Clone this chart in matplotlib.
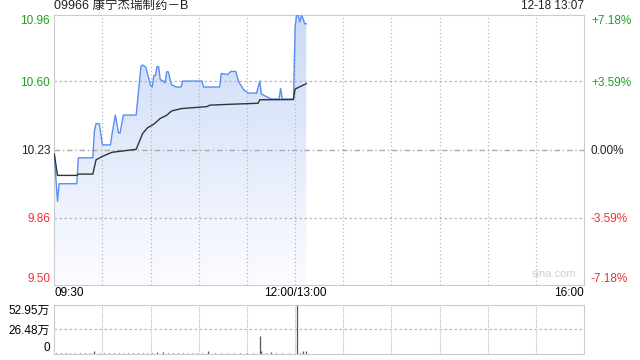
import matplotlib
matplotlib.use("Agg")
import matplotlib.pyplot as plt
import numpy as np
from matplotlib.patches import Polygon

plt.rcParams['font.family'] = ['Liberation Sans', 'Noto Sans CJK SC', 'DejaVu Sans']

# 数据
title = '09966 康宁杰瑞制药－B'
stamp = '12-18 13:07'
prev_close = 10.23

price_times = ['09:30', '09:32', '09:33', '09:44', '09:45', '09:54', '09:55', '09:56', '09:58',
               '10:00', '10:05', '10:06', '10:08', '10:10', '10:11', '10:13', '10:21', '10:24',
               '10:25', '10:27', '10:30', '10:31', '10:32', '10:33', '10:34', '10:35', '10:36',
               '10:38', '10:39', '10:40', '10:41', '10:43', '10:46', '10:49', '10:50', '11:02',
               '11:03', '11:13', '11:14', '11:18', '11:20', '11:23', '11:25', '11:28', '11:29',
               '11:31', '11:36', '11:38', '11:39', '11:42', '11:45', '11:50', '11:51', '11:52',
               '11:59', '12:00', '13:00', '13:01', '13:02', '13:03', '13:04', '13:05', '13:06',
               '13:07']
price = [10.20, 9.95, 10.045, 10.045, 10.185, 10.185, 10.33, 10.37, 10.37,
         10.255, 10.255, 10.315, 10.416, 10.32, 10.32, 10.416, 10.416, 10.68,
         10.687, 10.676, 10.575, 10.568, 10.63, 10.63, 10.678, 10.678, 10.608,
         10.60, 10.59, 10.65, 10.65, 10.58, 10.568, 10.568, 10.60, 10.60,
         10.568, 10.568, 10.641, 10.635, 10.652, 10.652, 10.594, 10.553, 10.546,
         10.535, 10.535, 10.60, 10.53, 10.517, 10.503, 10.503, 10.56, 10.503,
         10.503, 10.88, 10.89, 10.96, 10.955, 10.92, 10.955, 10.937, 10.91,
         10.91]

avg_times = ['09:30', '09:32', '09:44', '09:45', '09:54', '09:56', '10:00', '10:06', '10:21',
             '10:25', '10:28', '10:32', '10:36', '10:40', '10:43', '10:49', '11:05', '11:07',
             '11:21', '11:37', '11:38', '11:59', '13:00', '13:07']
avg_price = [10.206, 10.09, 10.09, 10.097, 10.097, 10.174, 10.193, 10.215, 10.231,
             10.316, 10.347, 10.367, 10.398, 10.415, 10.438, 10.451, 10.462, 10.47,
             10.475, 10.48, 10.499, 10.50, 10.557, 10.586]

vol_times = ['09:31', '09:34', '09:37', '09:40', '09:43', '09:46', '09:49', '09:52', '09:55',
             '09:58', '10:01', '10:04', '10:07', '10:10', '10:13', '10:16', '10:19', '10:22',
             '10:25', '10:28', '10:31', '10:34', '10:38', '10:41', '10:44', '10:47', '10:50',
             '10:53', '10:56', '10:59', '11:02', '11:06', '11:10', '11:14', '11:18', '11:22',
             '11:26', '11:30', '11:34', '11:38', '11:39', '11:42', '11:45', '11:48', '11:52',
             '11:56', '13:01', '13:03', '13:05', '13:07']
vol = [0.8, 0.6, 0.9, 0.7, 0.8, 1.0, 0.7, 0.9, 3.2,
       0.8, 0.6, 1.0, 0.7, 0.9, 0.8, 0.6, 1.0, 0.8,
       0.9, 0.7, 1.0, 2.0, 2.0, 0.8, 0.7, 0.9, 0.6,
       0.8, 0.7, 0.9, 0.8, 3.2, 0.7, 0.9, 0.6, 0.8,
       1.5, 0.7, 0.8, 19.5, 3.0, 0.9, 2.5, 0.8, 0.7,
       0.9, 52.95, 1.0, 3.0, 3.0]
vol_ticks = [0, 26.48, 52.95]
vol_labels = ['0', '26.48万', '52.95万']

price_ticks = [9.50, 9.86, 10.23, 10.60, 10.96]
pct_labels = ['-7.18%', '-3.59%', '0.00%', '+3.59%', '+7.18%']
x_labels = ['09:30', '12:00/13:00', '16:00']

GREEN = '#1ea01e'
RED = '#f03030'
BORDER = '#cccccc'
GRID = '#b8b8b8'


def minute_pos(t):
    h, m = map(int, t.split(':'))
    mins = h * 60 + m
    if mins <= 12 * 60:
        return mins - (9 * 60 + 30)
    return 150 + mins - 13 * 60


px = np.array([minute_pos(t) for t in price_times])
ax_ = np.array([minute_pos(t) for t in avg_times])
vx = np.array([minute_pos(t) for t in vol_times])

fig = plt.figure(figsize=(6.4, 3.6), dpi=100)
ax = fig.add_axes([54.3 / 640, 1 - 284.5 / 360, (584 - 54.3) / 640, (284.5 - 14.5) / 360])
axv = fig.add_axes([54.3 / 640, 1 - 354 / 360, (584 - 54.3) / 640, (354 - 305) / 360])

ymin, ymax = 9.50, 10.96
ax.set_xlim(0, 330)
ax.set_ylim(ymin, ymax)

# 渐变填充
grad = np.linspace(0, 1, 256).reshape(-1, 1)
cmap = matplotlib.colors.LinearSegmentedColormap.from_list('g', ['#fbfcff', '#cbdaf7'])
img = ax.imshow(grad, extent=[0, 330, ymin, 10.96], origin='lower', aspect='auto',
                cmap=cmap, zorder=1)
poly = Polygon(np.column_stack([np.r_[px, px[-1], px[0]], np.r_[price, ymin, ymin]]),
               closed=True, facecolor='none', edgecolor='none')
ax.add_patch(poly)
img.set_clip_path(poly)

ax.plot(px, price, color='#5b8ef2', lw=1.0, zorder=3)
ax.plot(ax_, avg_price, color='#333333', lw=1.0, zorder=3)

# 网格
ax.vlines(range(30, 330, 30), ymin, ymax, color=GRID, lw=0.9, ls=(0, (1, 2)), zorder=2)
ax.hlines([9.86, 10.60], 0, 330, color=GRID, lw=0.9, ls=(0, (2, 2)), zorder=2)
ax.hlines([prev_close], 0, 330, color='#aaaaaa', lw=1.0, ls=(0, (4, 2, 1, 2)), zorder=2)

for sp in ax.spines.values():
    sp.set_color(BORDER)

ax.set_yticks(price_ticks)
ax.set_yticklabels(['%.2f' % v for v in price_ticks], fontsize=8.5)
colors = [RED, RED, '#222222', GREEN, GREEN]
for lab, c in zip(ax.get_yticklabels(), colors):
    lab.set_color(c)
ax.get_yticklabels()[0].set_va('bottom')
ax.get_yticklabels()[-1].set_va('top')
ax.tick_params(axis='y', length=0, pad=3)

ax2 = ax.twinx()
ax2.set_ylim(ymin, ymax)
ax2.set_yticks(price_ticks)
ax2.set_yticklabels(pct_labels, fontsize=8.5)
for lab, c in zip(ax2.get_yticklabels(), colors):
    lab.set_color(c)
ax2.get_yticklabels()[0].set_va('bottom')
ax2.get_yticklabels()[-1].set_va('top')
ax2.tick_params(axis='y', length=0, pad=5)
for sp in ax2.spines.values():
    sp.set_visible(False)

ax.set_xticks([0, 150, 330])
ax.set_xticklabels(x_labels, fontsize=8.5)
ax.get_xticklabels()[0].set_ha('left')
ax.get_xticklabels()[2].set_ha('right')
ax.tick_params(axis='x', length=0, pad=2)

ax.text(0, 1.008, title, transform=ax.transAxes, fontsize=9, ha='left', va='bottom', color='#222222')
ax.text(1, 1.008, stamp, transform=ax.transAxes, fontsize=8.5, ha='right', va='bottom', color='#222222')
ax.text(0.985, 0.02, 'sina.com', transform=ax.transAxes, fontsize=8, ha='right', va='bottom',
        color='#d0d0d0')

# 成交量
axv.set_xlim(0, 330)
axv.set_ylim(0, 52.95)
axv.vlines(vx, 0, vol, color='#555555', lw=0.9)
axv.hlines([26.48], 0, 330, color=GRID, lw=0.9, ls=(0, (2, 2)), zorder=0)
axv.vlines(range(30, 330, 30), 0, 52.95, color=GRID, lw=0.8, ls=(0, (1, 1)), zorder=0)
for sp in axv.spines.values():
    sp.set_color(BORDER)
axv.spines['top'].set_linestyle((0, (1, 1)))
axv.spines['bottom'].set_linestyle((0, (1, 1)))
axv.set_xticks([])
axv.set_yticks(vol_ticks)
axv.set_yticklabels(vol_labels, fontsize=8.5)
axv.get_yticklabels()[0].set_va('bottom')
axv.get_yticklabels()[-1].set_va('top')
axv.tick_params(axis='y', length=0, pad=3)

fig.savefig('out.png', dpi=100)
